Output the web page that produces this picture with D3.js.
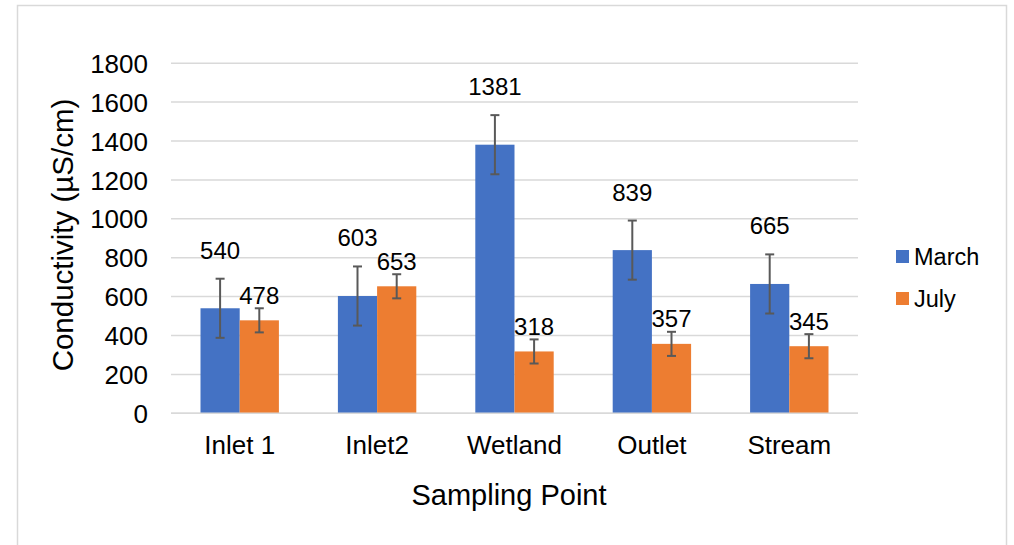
<!DOCTYPE html>
<html>
<head>
<meta charset="utf-8">
<script src="https://cdn.jsdelivr.net/npm/d3@7"></script>
<style>
  html, body { margin: 0; padding: 0; background: #fff; }
  svg { display: block; font-family: "Liberation Sans", Arial, sans-serif; }
</style>
</head>
<body>
<svg id="chart" width="1014" height="545"></svg>
<script>
const categories = ["Inlet 1", "Inlet2", "Wetland", "Outlet", "Stream"];
const seriesNames = ["March", "July"];
const marchValues = [540, 603, 1381, 839, 665];
const julyValues = [478, 653, 318, 357, 345];
const marchErrors = [152, 152, 152, 152, 152];
const julyErrors = [62, 62, 62, 62, 62];
const yTicks = [0, 200, 400, 600, 800, 1000, 1200, 1400, 1600, 1800];
const colors = ["#4472C4", "#ED7D31"];

const svg = d3.select("#chart");

// outer frame
svg.append("rect").attr("x", 17.5).attr("y", 5.5).attr("width", 989).attr("height", 560)
  .attr("fill", "#fff").attr("stroke", "#d9d9d9").attr("stroke-width", 1.5);

const plot = { left: 171, right: 858, top: 63.2, bottom: 413.3 };

const x = d3.scaleBand().domain(categories).range([plot.left, plot.right]).paddingInner(0).paddingOuter(0);
const y = d3.scaleLinear().domain([0, 1800]).range([plot.bottom, plot.top]);
const barW = 39.2;
const xs = d3.scaleBand().domain(seriesNames).range([0, barW * 2]);

// gridlines
svg.append("g").selectAll("line").data(yTicks).join("line")
  .attr("x1", plot.left).attr("x2", plot.right)
  .attr("y1", d => y(d)).attr("y2", d => y(d))
  .attr("stroke", "#d9d9d9").attr("stroke-width", 1.5);

// y axis labels
const yAxis = svg.append("g").attr("transform", `translate(${plot.left},0)`)
  .call(d3.axisLeft(y).tickValues(yTicks).tickSize(0).tickPadding(23).tickFormat(d3.format("d")));
yAxis.select(".domain").remove();
yAxis.selectAll("text").attr("font-size", 26).attr("fill", "#000")
  .attr("font-family", "Liberation Sans, Arial, sans-serif").attr("dy", "0.35em");

// x axis labels
const xAxis = svg.append("g").attr("transform", `translate(0,${plot.bottom})`)
  .call(d3.axisBottom(x).tickSize(0).tickPadding(22.5));
xAxis.select(".domain").remove();
xAxis.selectAll("text").attr("font-size", 26).attr("fill", "#000")
  .attr("font-family", "Liberation Sans, Arial, sans-serif").attr("dy", "0.71em");

const series = [
  { name: "March", values: marchValues, errors: marchErrors, color: colors[0], labelOffset: 58 },
  { name: "July", values: julyValues, errors: julyErrors, color: colors[1], labelOffset: 25 }
];

series.forEach(s => {
  const data = categories.map((c, i) => ({ c, v: s.values[i], e: s.errors[i] }));
  const bx = d => x(d.c) + (x.bandwidth() - barW * 2) / 2 + xs(s.name);
  const g = svg.append("g");
  g.selectAll("rect").data(data).join("rect")
    .attr("x", bx).attr("width", barW)
    .attr("y", d => y(d.v)).attr("height", d => y(0) - y(d.v))
    .attr("fill", s.color);
  // error bars
  const eg = g.selectAll("g.err").data(data).join("g").attr("class", "err");
  eg.append("line")
    .attr("x1", d => bx(d) + barW / 2).attr("x2", d => bx(d) + barW / 2)
    .attr("y1", d => y(d.v + d.e)).attr("y2", d => y(d.v - d.e))
    .attr("stroke", "#595959").attr("stroke-width", 2);
  eg.selectAll("line.cap").data(d => [d.v + d.e, d.v - d.e].map(val => ({ val, d }))).join("line")
    .attr("class", "cap")
    .attr("x1", o => bx(o.d) + barW / 2 - 4.5).attr("x2", o => bx(o.d) + barW / 2 + 4.5)
    .attr("y1", o => y(o.val)).attr("y2", o => y(o.val))
    .attr("stroke", "#595959").attr("stroke-width", 2);
  // labels
  g.selectAll("text").data(data).join("text")
    .attr("x", d => bx(d) + barW / 2)
    .attr("y", d => y(d.v) - s.labelOffset)
    .attr("dy", "0.35em")
    .attr("text-anchor", "middle").attr("font-size", 24).attr("fill", "#000")
    .text(d => d.v);
});

// baseline
svg.append("line").attr("x1", plot.left).attr("x2", plot.right)
  .attr("y1", y(0)).attr("y2", y(0)).attr("stroke", "#d9d9d9").attr("stroke-width", 1.5);

// axis titles
svg.append("text").attr("transform", `translate(73,235) rotate(-90)`)
  .attr("text-anchor", "middle").attr("font-size", 29.5).attr("fill", "#000")
  .text("Conductivity (µS/cm)");
svg.append("text").attr("x", 509).attr("y", 505)
  .attr("text-anchor", "middle").attr("font-size", 29).attr("fill", "#000")
  .text("Sampling Point");

// legend
const legend = svg.append("g");
series.forEach((s, i) => {
  const ly = 256.5 + i * 42;
  legend.append("rect").attr("x", 896).attr("y", ly - 6.5).attr("width", 13).attr("height", 13).attr("fill", s.color);
  legend.append("text").attr("x", 914).attr("y", ly).attr("dy", "0.35em")
    .attr("font-size", 23.5).attr("fill", "#000").text(s.name);
});
</script>
</body>
</html>
